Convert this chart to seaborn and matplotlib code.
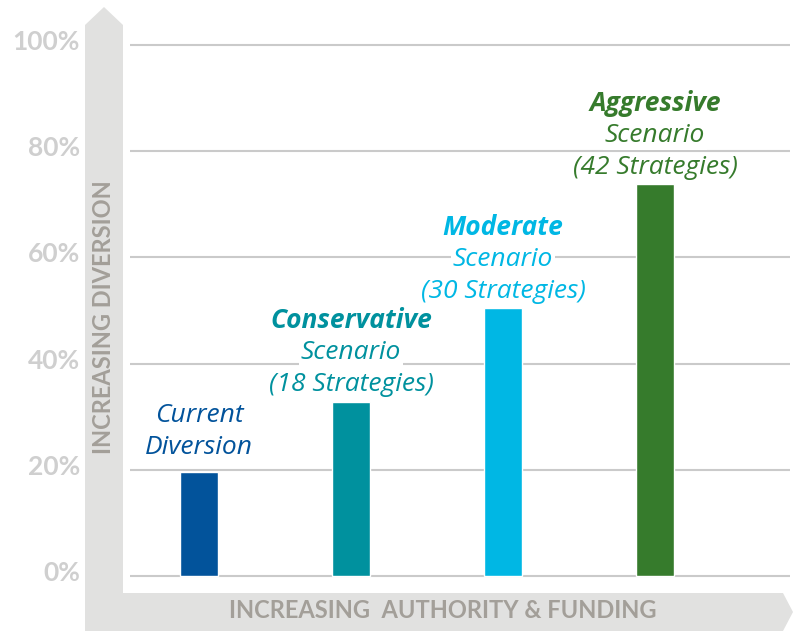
import matplotlib
matplotlib.use("Agg")
import matplotlib.pyplot as plt
from matplotlib.patches import Polygon
from matplotlib.transforms import ScaledTranslation
import seaborn as sns
import pandas as pd

# chart data
scenarios = ["Current", "Conservative", "Moderate", "Aggressive"]
diversion = [19.6, 32.8, 50.4, 73.8]
bold_lines = ["", "Conservative", "Moderate", "Aggressive"]
sub_lines = [["Current", "Diversion"],
             ["Scenario", "(18 Strategies)"],
             ["Scenario", "(30 Strategies)"],
             ["Scenario", "(42 Strategies)"]]
bar_colors = ["#02539b", "#00919e", "#00b7e4", "#367b2c"]
y_ticks = [0, 20, 40, 60, 80, 100]

sns.set_theme(style="white")
plt.rcParams['font.family'] = ['Open Sans', 'DejaVu Sans']
bold_family = ['Lato', 'DejaVu Sans']  # upright bold face

W, H = 793, 631
fig = plt.figure(figsize=(W / 100, H / 100), dpi=100)

def px(x, y):
    # pixel coords (y down) -> figure fraction
    return (x / W, 1 - y / H)

# big grey L-shaped arrow
arrow_pts = [(85, 631), (85, 25), (104, 7), (123, 25), (123, 593),
             (783, 593), (793, 612), (783, 631)]
fig.patches.append(Polygon([px(*p) for p in arrow_pts], closed=True,
                           transform=fig.transFigure, facecolor="#e1e1e0",
                           edgecolor="none", zorder=0))

# axes placed so that 0% sits at y=576 and 100% at y=45
pad = 2
unit = (576 - 45) / 100
ax_left, ax_right = 130, 790
ax_top = 45 - pad * unit
ax_bot = 576 + pad * unit
ax = fig.add_axes([ax_left / W, 1 - ax_bot / H, (ax_right - ax_left) / W, (ax_bot - ax_top) / H])
ax.patch.set_alpha(0)

df = pd.DataFrame({"scenario": scenarios, "value": diversion})
sns.barplot(data=df, x="scenario", y="value", hue="scenario", palette=bar_colors,
            width=0.245, legend=False, ax=ax, zorder=3, saturation=1)

ax.set_ylim(-pad, 100 + pad)
ax.set_xlim(-0.454, 3.888)
ax.set_yticks(y_ticks)
ax.set_yticklabels([f"{t}%" for t in y_ticks], fontweight="bold", fontsize=19,
                   color="#cfcfcf", family=bold_family)
ax.yaxis.grid(True, color="#cacaca", linewidth=1.5, zorder=0)
ax.set_axisbelow(True)
ax.tick_params(axis="y", length=0, pad=36)
# labels sit a little above their gridlines
nudge = ScaledTranslation(0, 5 / 100, fig.dpi_scale_trans)
for lab in ax.get_yticklabels():
    lab.set_transform(lab.get_transform() + nudge)
ax.set_xticks([])
ax.set_xlabel("")
ax.set_ylabel("")
for sp in ax.spines.values():
    sp.set_visible(False)

# scenario labels above the bars
box = dict(facecolor="white", edgecolor="none", pad=1.5)
for i, (val, bold, subs, col) in enumerate(zip(diversion, bold_lines, sub_lines, bar_colors)):
    base = 24 if bold == "" else 17
    lines = [(s, "normal") for s in reversed(subs)]
    if bold:
        lines.append((bold, "bold"))
    for k, (txt, wt) in enumerate(lines):
        off = (base + 32 * k) * 0.72
        ax.annotate(txt, xy=(i, val), xytext=(0, off), textcoords="offset points",
                    ha="center", va="center", fontsize=19, style="italic",
                    fontweight=wt, color=col, bbox=box, zorder=4)

# axis captions inside the arrow
fig.text(*px(104, 317), "INCREASING DIVERSION", rotation=90, ha="center", va="center",
         fontsize=17, fontweight="bold", color="#a39f99", family=bold_family)
fig.text(*px(443, 610), "INCREASING  AUTHORITY & FUNDING", ha="center", va="center",
         fontsize=17, fontweight="bold", color="#a39f99", family=bold_family)

fig.savefig("out.png", dpi=100)
